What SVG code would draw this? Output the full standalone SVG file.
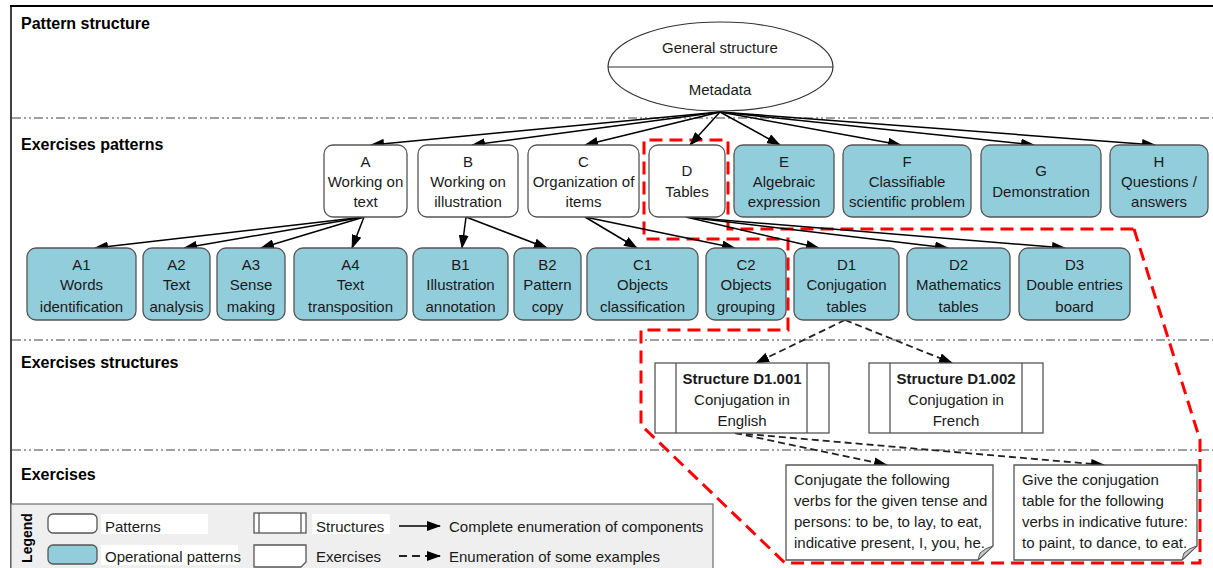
<svg xmlns="http://www.w3.org/2000/svg" width="1213" height="568" viewBox="0 0 1213 568">
<defs>
<style>
.t{font-family:"Liberation Sans",Arial,sans-serif;font-size:15px;fill:#1a1a1a}
.c{text-anchor:middle}
.h{font-family:"Liberation Sans",Arial,sans-serif;font-size:16px;font-weight:bold;fill:#000}
.b{font-weight:bold}
.pat{fill:#fff;stroke:#555;stroke-width:1.3}
.op{fill:#92CDDC;stroke:#555;stroke-width:1.3}
.st{fill:#fff;stroke:#555;stroke-width:1.3}
.sep{stroke:#808080;stroke-width:1.5;stroke-dasharray:9 3 2 3 2 3;fill:none}
.e{stroke:#000;stroke-width:1.5;fill:none;marker-end:url(#ah)}
.d{stroke:#222;stroke-width:1.8;fill:none;stroke-dasharray:7 4;marker-end:url(#ah)}
.red{stroke:#ff0000;stroke-width:3;fill:none;stroke-dasharray:13 7}
</style>
<marker id="ah" viewBox="0 0 14 10" refX="13" refY="5" markerWidth="14" markerHeight="10" markerUnits="userSpaceOnUse" orient="auto"><path d="M0,0 L14,5 L0,10 z" fill="#000"/></marker>
</defs>
<rect width="1213" height="568" fill="#fff"/>
<g id="frame">
<line x1="10" y1="6" x2="1213" y2="6" stroke="#000" stroke-width="2"/>
<line x1="11" y1="6" x2="11" y2="568" stroke="#000" stroke-width="1.5"/>
<line class="sep" x1="12" y1="118" x2="1213" y2="118"/>
<line class="sep" x1="12" y1="340" x2="1213" y2="340"/>
<line class="sep" x1="12" y1="450" x2="1213" y2="450"/>
<text class="h" x="21" y="29">Pattern structure</text>
<text class="h" x="21" y="150">Exercises patterns</text>
<text class="h" x="21" y="368">Exercises structures</text>
<text class="h" x="21" y="480">Exercises</text>
</g>
<g id="legend">
<rect x="11" y="504" width="702" height="70" fill="#efefef" stroke="#777" stroke-width="1.3"/>
<text class="h" transform="translate(32,538) rotate(-90)" text-anchor="middle" style="font-size:14px">Legend</text>
<rect x="101" y="514" width="107" height="20" fill="#fff"/>
<rect x="101" y="545" width="137" height="20" fill="#fff"/>
<rect x="312" y="514" width="78" height="20" fill="#fff"/>
<rect class="pat" x="48" y="514" width="49" height="19" rx="5"/>
<rect class="op" x="48" y="545" width="49" height="19" rx="5"/>
<text class="t" x="105" y="532">Patterns</text>
<text class="t" x="105" y="562">Operational patterns</text>
<rect class="st" x="254" y="513" width="52" height="20"/>
<line x1="259" y1="513" x2="259" y2="533" stroke="#555" stroke-width="1.3"/>
<line x1="301" y1="513" x2="301" y2="533" stroke="#555" stroke-width="1.3"/>
<path d="M254,545 H306 V562 L301,567 H254 Z" fill="#fff" stroke="#555" stroke-width="1.3"/>
<text class="t" x="316" y="532">Structures</text>
<text class="t" x="316" y="562">Exercises</text>
<line class="e" x1="399" y1="526" x2="440" y2="526"/>
<line class="d" x1="399" y1="556" x2="440" y2="556" style="stroke-dasharray:8 5"/>
<text class="t" x="449" y="532">Complete enumeration  of components</text>
<text class="t" x="449" y="562">Enumeration of some examples</text>
</g>
<path class="red" d="M1134,229 L1200,440 L1200,563 L785,563 L641,425 L641,330 L788,330 L788,239 L644,239 L644,140 L728,140 L728,229 Z"/>
<g id="connectors">
<line class="e" x1="720" y1="112" x2="371" y2="145"/>
<line class="e" x1="720" y1="112" x2="472" y2="145"/>
<line class="e" x1="720" y1="112" x2="585" y2="145"/>
<line class="e" x1="720" y1="112" x2="690" y2="145"/>
<line class="e" x1="720" y1="112" x2="780" y2="145"/>
<line class="e" x1="720" y1="112" x2="901" y2="145"/>
<line class="e" x1="720" y1="112" x2="1034" y2="145"/>
<line class="e" x1="720" y1="112" x2="1155" y2="145"/>
<line class="e" x1="364" y1="217" x2="95" y2="248"/>
<line class="e" x1="364" y1="217" x2="184" y2="248"/>
<line class="e" x1="364" y1="217" x2="261" y2="248"/>
<line class="e" x1="364" y1="217" x2="352" y2="248"/>
<line class="e" x1="466" y1="217" x2="462" y2="248"/>
<line class="e" x1="466" y1="217" x2="547" y2="248"/>
<line class="e" x1="585" y1="217" x2="637" y2="248"/>
<line class="e" x1="585" y1="217" x2="735" y2="248"/>
<line class="e" x1="686" y1="217" x2="819" y2="248"/>
<line class="e" x1="686" y1="217" x2="948" y2="248"/>
<line class="e" x1="686" y1="217" x2="1065" y2="248"/>
<line class="d" x1="845" y1="320" x2="756" y2="363"/>
<line class="d" x1="845" y1="320" x2="952" y2="363"/>
<line class="d" x1="735" y1="433" x2="887" y2="465"/>
<line class="d" x1="735" y1="433" x2="1104" y2="465"/>
</g>
<g id="root">
<ellipse cx="720.5" cy="66.5" rx="112.5" ry="44.5" fill="#fff" stroke="#333" stroke-width="1.2"/>
<line x1="608" y1="67" x2="833" y2="67" stroke="#333" stroke-width="1.2"/>
<text class="t c" x="720" y="53">General structure</text>
<text class="t c" x="720" y="95">Metadata</text>
</g>
<g id="A"><rect class="pat" x="324" y="145" width="83" height="72" rx="9"/><text class="t c" x="365.5" y="167">A</text><text class="t c" x="365.5" y="187">Working on</text><text class="t c" x="365.5" y="207">text</text></g>
<g id="B"><rect class="pat" x="418" y="145" width="100" height="72" rx="9"/><text class="t c" x="468" y="167">B</text><text class="t c" x="468" y="187">Working on</text><text class="t c" x="468" y="207">illustration</text></g>
<g id="C"><rect class="pat" x="528" y="145" width="111" height="72" rx="9"/><text class="t c" x="583.5" y="167">C</text><text class="t c" x="583.5" y="187">Organization of</text><text class="t c" x="583.5" y="207">items</text></g>
<g id="D"><rect class="pat" x="649" y="145" width="76" height="72" rx="9"/><text class="t c" x="687" y="176">D</text><text class="t c" x="687" y="197">Tables</text></g>
<g id="E"><rect class="op" x="734" y="145" width="100" height="72" rx="9"/><text class="t c" x="784" y="167">E</text><text class="t c" x="784" y="187">Algebraic</text><text class="t c" x="784" y="207">expression</text></g>
<g id="F"><rect class="op" x="843" y="145" width="128" height="72" rx="9"/><text class="t c" x="907" y="167">F</text><text class="t c" x="907" y="187">Classifiable</text><text class="t c" x="907" y="207">scientific problem</text></g>
<g id="G"><rect class="op" x="981" y="145" width="120" height="72" rx="9"/><text class="t c" x="1041" y="176">G</text><text class="t c" x="1041" y="197">Demonstration</text></g>
<g id="H"><rect class="op" x="1110" y="145" width="98" height="72" rx="9"/><text class="t c" x="1159" y="167">H</text><text class="t c" x="1159" y="187">Questions /</text><text class="t c" x="1159" y="207">answers</text></g>
<g id="A1"><rect class="op" x="27" y="248" width="109" height="72" rx="9"/><text class="t c" x="81.5" y="270">A1</text><text class="t c" x="81.5" y="290">Words</text><text class="t c" x="81.5" y="312">identification</text></g>
<g id="A2"><rect class="op" x="143" y="248" width="67" height="72" rx="9"/><text class="t c" x="176.5" y="270">A2</text><text class="t c" x="176.5" y="290">Text</text><text class="t c" x="176.5" y="312">analysis</text></g>
<g id="A3"><rect class="op" x="217" y="248" width="68" height="72" rx="9"/><text class="t c" x="251" y="270">A3</text><text class="t c" x="251" y="290">Sense</text><text class="t c" x="251" y="312">making</text></g>
<g id="A4"><rect class="op" x="294" y="248" width="113" height="72" rx="9"/><text class="t c" x="350.5" y="270">A4</text><text class="t c" x="350.5" y="290">Text</text><text class="t c" x="350.5" y="312">transposition</text></g>
<g id="B1"><rect class="op" x="413" y="248" width="95" height="72" rx="9"/><text class="t c" x="460.5" y="270">B1</text><text class="t c" x="460.5" y="290">Illustration</text><text class="t c" x="460.5" y="312">annotation</text></g>
<g id="B2"><rect class="op" x="514" y="248" width="67" height="72" rx="9"/><text class="t c" x="547.5" y="270">B2</text><text class="t c" x="547.5" y="290">Pattern</text><text class="t c" x="547.5" y="312">copy</text></g>
<g id="C1"><rect class="op" x="587" y="248" width="111" height="72" rx="9"/><text class="t c" x="642.5" y="270">C1</text><text class="t c" x="642.5" y="290">Objects</text><text class="t c" x="642.5" y="312">classification</text></g>
<g id="C2"><rect class="op" x="706" y="248" width="80" height="72" rx="9"/><text class="t c" x="746" y="270">C2</text><text class="t c" x="746" y="290">Objects</text><text class="t c" x="746" y="312">grouping</text></g>
<g id="D1"><rect class="op" x="794" y="248" width="105" height="72" rx="9"/><text class="t c" x="846.5" y="270">D1</text><text class="t c" x="846.5" y="290">Conjugation</text><text class="t c" x="846.5" y="312">tables</text></g>
<g id="D2"><rect class="op" x="907" y="248" width="103" height="72" rx="9"/><text class="t c" x="958.5" y="270">D2</text><text class="t c" x="958.5" y="290">Mathematics</text><text class="t c" x="958.5" y="312">tables</text></g>
<g id="D3"><rect class="op" x="1019" y="248" width="111" height="72" rx="9"/><text class="t c" x="1074.5" y="270">D3</text><text class="t c" x="1074.5" y="290">Double entries</text><text class="t c" x="1074.5" y="312">board</text></g>
<g id="S1"><rect class="st" x="655" y="363" width="174" height="70"/><line x1="676" y1="363" x2="676" y2="433" stroke="#555" stroke-width="1.3"/><line x1="807" y1="363" x2="807" y2="433" stroke="#555" stroke-width="1.3"/><text class="t c b" x="742" y="384">Structure D1.001</text><text class="t c" x="742" y="405">Conjugation in</text><text class="t c" x="742" y="426">English</text></g>
<g id="S2"><rect class="st" x="869" y="363" width="174" height="70"/><line x1="890" y1="363" x2="890" y2="433" stroke="#555" stroke-width="1.3"/><line x1="1022" y1="363" x2="1022" y2="433" stroke="#555" stroke-width="1.3"/><text class="t c b" x="956" y="384">Structure D1.002</text><text class="t c" x="956" y="405">Conjugation in</text><text class="t c" x="956" y="426">French</text></g>
<g id="X1"><path d="M786,465 H993 V546 L978,560 H786 Z" fill="#fff" stroke="#555" stroke-width="1.3"/><path d="M993,546 Q985,548 980,553 L978,560 Z" fill="#c8c8c8" stroke="#555" stroke-width="1"/><text class="t" x="794" y="485">Conjugate  the following</text><text class="t" x="794" y="506">verbs for the given tense and</text><text class="t" x="794" y="527">persons: to be, to lay, to eat,</text><text class="t" x="794" y="548">indicative present,  I, you, he.</text></g>
<g id="X2"><path d="M1014,465 H1197 V546 L1182,560 H1014 Z" fill="#fff" stroke="#555" stroke-width="1.3"/><path d="M1197,546 Q1189,548 1184,553 L1182,560 Z" fill="#c8c8c8" stroke="#555" stroke-width="1"/><text class="t" x="1022" y="485">Give the conjugation</text><text class="t" x="1022" y="506">table for the following</text><text class="t" x="1022" y="527">verbs in indicative future:</text><text class="t" x="1022" y="548">to paint, to dance, to eat.</text></g>
</svg>
